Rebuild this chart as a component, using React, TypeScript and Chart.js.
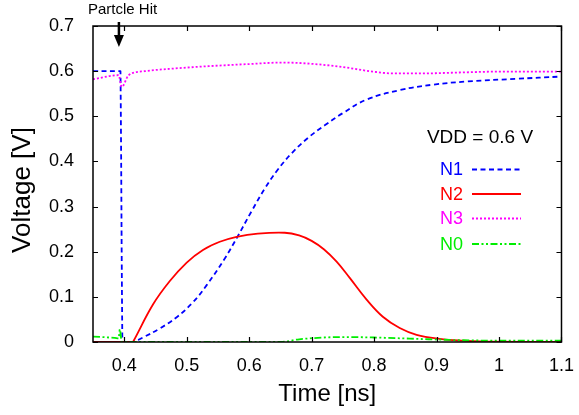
import React, { useEffect, useRef } from "react";
import { Chart, registerables } from "chart.js";
Chart.register(...registerables);

// ---- data ----
const xTickValues = [0.4, 0.5, 0.6, 0.7, 0.8, 0.9, 1.0, 1.1];
const yTickValues = [0, 0.1, 0.2, 0.3, 0.4, 0.5, 0.6, 0.7];

const n1Time = [0.35, 0.393, 0.394, 0.397, 0.398, 0.414, 0.43, 0.457, 0.484, 0.51, 0.532, 0.561, 0.582, 0.604, 0.625, 0.646, 0.668, 0.694, 0.721, 0.75, 0.788, 0.841, 0.894, 0.948, 1.028, 1.1];
const n1Volt = [0.6, 0.6, 0.6, 0.0, 0.0, 0.0, 0.01, 0.03, 0.055, 0.088, 0.126, 0.185, 0.235, 0.29, 0.34, 0.382, 0.418, 0.452, 0.48, 0.507, 0.537, 0.558, 0.57, 0.577, 0.583, 0.588];

const n2Time = [0.35, 0.413, 0.414, 0.446, 0.473, 0.5, 0.526, 0.553, 0.58, 0.614, 0.657, 0.68, 0.7, 0.72, 0.74, 0.761, 0.788, 0.814, 0.841, 0.868, 0.905, 0.94, 0.98, 1.1];
const n2Volt = [0, 0, 0, 0.083, 0.135, 0.176, 0.204, 0.222, 0.233, 0.24, 0.242, 0.236, 0.224, 0.205, 0.178, 0.142, 0.094, 0.056, 0.031, 0.016, 0.007, 0.003, 0.001, 0];

const n3Time = [0.35, 0.391, 0.396, 0.407, 0.433, 0.481, 0.535, 0.604, 0.65, 0.681, 0.745, 0.798, 0.83, 0.88, 0.937, 1.0, 1.1];
const n3Volt = [0.582, 0.591, 0.565, 0.591, 0.6, 0.606, 0.611, 0.616, 0.619, 0.618, 0.61, 0.599, 0.595, 0.595, 0.597, 0.599, 0.599];

const n0Time = [0.35, 0.385, 0.391, 0.393, 0.396, 0.4, 0.65, 0.68, 0.75, 0.8, 0.857, 0.937, 1.0, 1.1];
const n0Volt = [0.012, 0.009, 0.008, 0.028, 0.0, 0.0, 0.0, 0.006, 0.011, 0.01, 0.0075, 0.004, 0.003, 0.003];

const seriesNames = ["N1", "N2", "N3", "N0"];
const seriesColors = ["#0000ff", "#ff0000", "#ff00ff", "#00ee00"];
const seriesDash = [[5, 3.5], [], [2, 2], [7, 2.5, 2, 2.5, 2, 2.5]];
const legendTitle = "VDD = 0.6 V";
const annotationText = "Partcle Hit";
const xTitle = "Time [ns]";
const yTitle = "Voltage [V]";
const hitTime = 0.3915;

const FONT = "'Liberation Sans', Arial, Helvetica, sans-serif";

const toPoints = (t: number[], v: number[]) => t.map((x, i) => ({ x, y: v[i] }));

export default function App() {
  const ref = useRef<HTMLCanvasElement>(null);

  useEffect(() => {
    const canvas = ref.current;
    if (!canvas) return;

    const overlay = {
      id: "gnuplotFrame",
      afterDatasetsDraw(chart: any) {
        const { ctx, chartArea: a, scales } = chart;
        const xs = scales.x;
        const ys = scales.y;
        ctx.save();
        ctx.setLineDash([]);
        ctx.strokeStyle = "#000";
        ctx.lineWidth = 1.5;
        ctx.strokeRect(a.left, a.top, a.right - a.left, a.bottom - a.top);
        const tl = 5;
        ctx.lineWidth = 1.2;
        ctx.beginPath();
        xTickValues.forEach((v) => {
          const x = Math.round(xs.getPixelForValue(v)) + 0.5;
          ctx.moveTo(x, a.bottom);
          ctx.lineTo(x, a.bottom - tl);
          ctx.moveTo(x, a.top);
          ctx.lineTo(x, a.top + tl);
        });
        yTickValues.forEach((v) => {
          const y = Math.round(ys.getPixelForValue(v)) + 0.5;
          ctx.moveTo(a.left, y);
          ctx.lineTo(a.left + tl, y);
          ctx.moveTo(a.right, y);
          ctx.lineTo(a.right - tl, y);
        });
        ctx.stroke();

        // y axis title
        ctx.save();
        ctx.fillStyle = "#000";
        ctx.font = `26px ${FONT}`;
        ctx.textAlign = "center";
        ctx.textBaseline = "middle";
        ctx.translate(22.5, 190);
        ctx.rotate(-Math.PI / 2);
        ctx.fillText(yTitle, 0, 0);
        ctx.restore();

        // legend
        ctx.fillStyle = "#000";
        ctx.font = `19px ${FONT}`;
        ctx.textAlign = "center";
        ctx.textBaseline = "middle";
        ctx.fillText(legendTitle, 480, 138);
        const rowY = [169.5, 194, 218.5, 244];
        ctx.font = `18px ${FONT}`;
        ctx.textAlign = "right";
        seriesNames.forEach((name, i) => {
          ctx.fillStyle = seriesColors[i];
          ctx.fillText(name, 463, rowY[i] + 1);
          ctx.strokeStyle = seriesColors[i];
          ctx.lineWidth = 1.8;
          ctx.setLineDash(seriesDash[i]);
          ctx.beginPath();
          ctx.moveTo(472, rowY[i]);
          ctx.lineTo(521, rowY[i]);
          ctx.stroke();
        });
        ctx.setLineDash([]);

        // annotation
        ctx.fillStyle = "#000";
        ctx.font = `15px ${FONT}`;
        ctx.textAlign = "left";
        ctx.textBaseline = "middle";
        ctx.fillText(annotationText, 88, 10);
        const ax = xs.getPixelForValue(hitTime);
        ctx.strokeStyle = "#000";
        ctx.lineWidth = 2.5;
        ctx.beginPath();
        ctx.moveTo(ax, 22);
        ctx.lineTo(ax, 37);
        ctx.stroke();
        ctx.beginPath();
        ctx.moveTo(ax - 5, 35);
        ctx.lineTo(ax + 5, 35);
        ctx.lineTo(ax, 47);
        ctx.closePath();
        ctx.fill();
        ctx.restore();
      },
    };

    const mk = (t: number[], v: number[], i: number, smooth: "monotone" | "spline") => ({
      label: seriesNames[i],
      data: toPoints(t, v),
      borderColor: seriesColors[i],
      borderWidth: 1.8,
      borderDash: seriesDash[i],
      pointRadius: 0,
      fill: false,
      cubicInterpolationMode: smooth === "monotone" ? ("monotone" as const) : ("default" as const),
      tension: smooth === "monotone" ? 0 : 0.4,
    });

    const chart = new Chart(canvas, {
      type: "line",
      data: {
        datasets: [
          mk(n0Time, n0Volt, 3, "monotone"),
          mk(n3Time, n3Volt, 2, "monotone"),
          mk(n2Time, n2Volt, 1, "spline"),
          mk(n1Time, n1Volt, 0, "spline"),
        ],
      },
      options: {
        responsive: false,
        devicePixelRatio: 1,
        animation: false,
        layout: { padding: { top: 26, right: 17, left: 0, bottom: 0 } },
        plugins: { legend: { display: false }, tooltip: { enabled: false } },
        scales: {
          x: {
            type: "linear",
            min: 0.35,
            max: 1.1,
            afterBuildTicks: (s: any) => {
              s.ticks = xTickValues.map((value) => ({ value }));
            },
            afterFit: (s: any) => {
              s.height = 73;
            },
            grid: { display: false },
            border: { display: false },
            ticks: {
              color: "#000",
              font: { family: FONT, size: 18 },
              padding: 5,
              maxRotation: 0,
              callback: (v: any) => String(parseFloat(Number(v).toFixed(2))),
            },
            title: {
              display: true,
              text: xTitle,
              color: "#000",
              font: { family: FONT, size: 24 },
              padding: { top: 0, bottom: 6 },
            },
          },
          y: {
            type: "linear",
            min: 0,
            max: 0.7,
            afterBuildTicks: (s: any) => {
              s.ticks = yTickValues.map((value) => ({ value }));
            },
            afterFit: (s: any) => {
              s.width = 93;
            },
            grid: { display: false },
            border: { display: false },
            ticks: {
              color: "#000",
              font: { family: FONT, size: 18 },
              padding: 11,
              callback: (v: any) => (Number(v) === 0 ? "0" : Number(v).toFixed(1)),
            },
            title: { display: false },
          },
        },
      },
      plugins: [overlay],
    });

    return () => chart.destroy();
  }, []);

  return (
    <div style={{ position: "absolute", left: 0, top: 0, width: 579, height: 415, background: "#fff" }}>
      <canvas ref={ref} width={579} height={415} style={{ display: "block" }} />
    </div>
  );
}
